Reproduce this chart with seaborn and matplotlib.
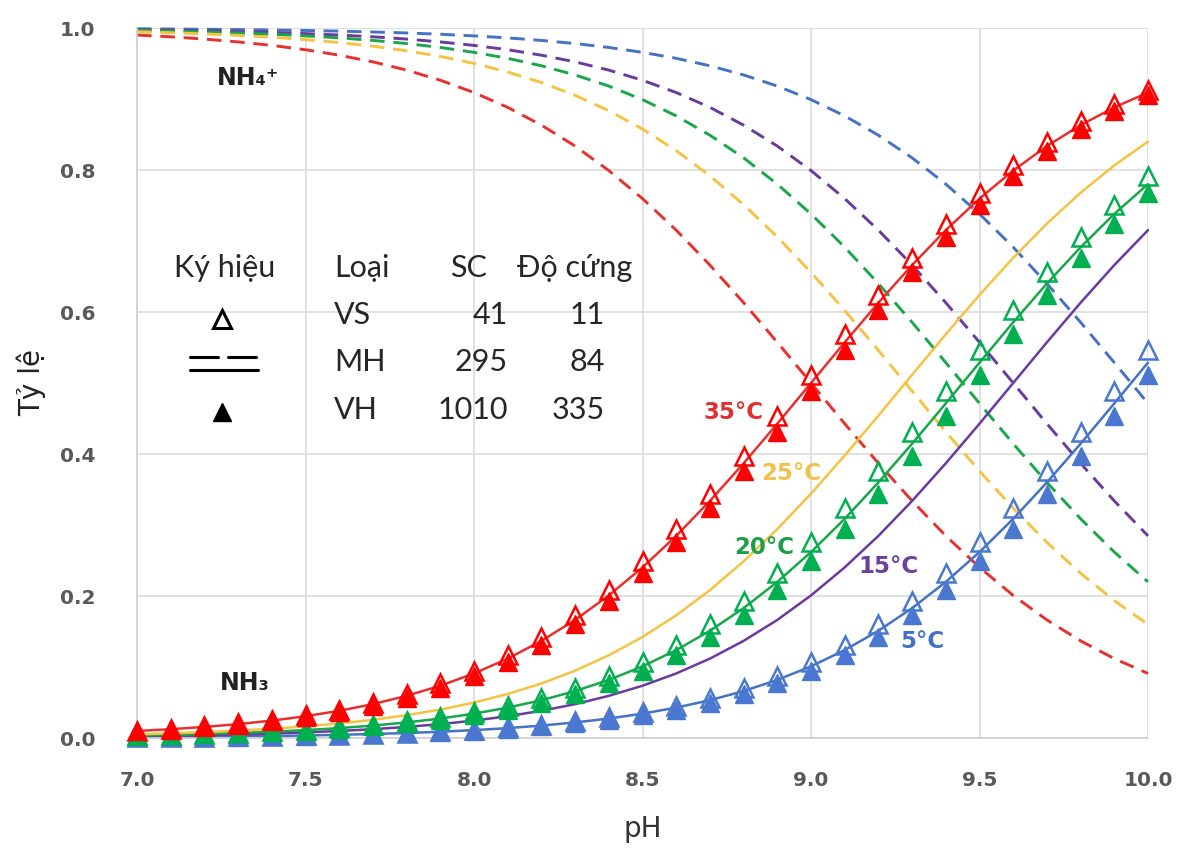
import matplotlib
matplotlib.use("Agg")
import matplotlib.pyplot as plt
import seaborn as sns
import pandas as pd

# ---------------- data ----------------
ph = [7.0, 7.1, 7.2, 7.3, 7.4, 7.5, 7.6, 7.7, 7.8, 7.9,
      8.0, 8.1, 8.2, 8.3, 8.4, 8.5, 8.6, 8.7, 8.8, 8.9,
      9.0, 9.1, 9.2, 9.3, 9.4, 9.5, 9.6, 9.7, 9.8, 9.9, 10.0]

# NH3 fraction, MH water (solid lines)
nh3_35 = [0.0099, 0.0124, 0.0156, 0.0196, 0.0245, 0.0307, 0.0383, 0.0477, 0.0594, 0.0736,
          0.0909, 0.1118, 0.1368, 0.1663, 0.2008, 0.2403, 0.2847, 0.3339, 0.3869, 0.4427,
          0.5000, 0.5573, 0.6131, 0.6661, 0.7153, 0.7597, 0.7992, 0.8337, 0.8632, 0.8882, 0.9091]
nh3_25 = [0.0052, 0.0066, 0.0083, 0.0104, 0.0130, 0.0163, 0.0205, 0.0256, 0.0321, 0.0400,
          0.0499, 0.0620, 0.0768, 0.0948, 0.1165, 0.1423, 0.1728, 0.2082, 0.2488, 0.2942,
          0.3442, 0.3978, 0.4541, 0.5115, 0.5686, 0.6240, 0.6763, 0.7245, 0.7680, 0.8065, 0.8400]
nh3_20 = [0.0035, 0.0045, 0.0056, 0.0070, 0.0088, 0.0111, 0.0139, 0.0175, 0.0219, 0.0274,
          0.0343, 0.0428, 0.0532, 0.0661, 0.0818, 0.1009, 0.1238, 0.1510, 0.1829, 0.2199,
          0.2619, 0.3087, 0.3600, 0.4145, 0.4713, 0.5287, 0.5855, 0.6401, 0.6912, 0.7381, 0.7801]
nh3_15 = [0.0025, 0.0032, 0.0040, 0.0050, 0.0063, 0.0079, 0.0099, 0.0124, 0.0156, 0.0196,
          0.0245, 0.0307, 0.0383, 0.0477, 0.0594, 0.0736, 0.0909, 0.1118, 0.1368, 0.1663,
          0.2008, 0.2403, 0.2847, 0.3339, 0.3869, 0.4427, 0.5000, 0.5573, 0.6131, 0.6661, 0.7153]
nh3_5 = [0.0011, 0.0014, 0.0018, 0.0022, 0.0028, 0.0035, 0.0045, 0.0056, 0.0070, 0.0088,
         0.0111, 0.0139, 0.0175, 0.0219, 0.0274, 0.0343, 0.0428, 0.0532, 0.0661, 0.0818,
         0.1009, 0.1238, 0.1510, 0.1829, 0.2199, 0.2619, 0.3087, 0.3600, 0.4145, 0.4713, 0.5287]

# NH4+ fraction, MH water (dashed lines)
nh4_35 = [0.9901, 0.9876, 0.9844, 0.9804, 0.9755, 0.9694, 0.9617, 0.9523, 0.9407, 0.9264,
          0.9091, 0.8882, 0.8632, 0.8337, 0.7992, 0.7597, 0.7153, 0.6661, 0.6131, 0.5573,
          0.5000, 0.4427, 0.3869, 0.3339, 0.2847, 0.2403, 0.2008, 0.1663, 0.1368, 0.1118, 0.0909]
nh4_25 = [0.9948, 0.9934, 0.9917, 0.9896, 0.9870, 0.9837, 0.9795, 0.9744, 0.9679, 0.9600,
          0.9501, 0.9380, 0.9232, 0.9052, 0.8835, 0.8577, 0.8272, 0.7918, 0.7512, 0.7058,
          0.6558, 0.6022, 0.5459, 0.4885, 0.4314, 0.3760, 0.3237, 0.2755, 0.2320, 0.1935, 0.1600]
nh4_20 = [0.9965, 0.9956, 0.9944, 0.9930, 0.9912, 0.9889, 0.9861, 0.9825, 0.9781, 0.9726,
          0.9657, 0.9573, 0.9468, 0.9339, 0.9182, 0.8991, 0.8762, 0.8490, 0.8171, 0.7801,
          0.7381, 0.6913, 0.6400, 0.5855, 0.5287, 0.4713, 0.4145, 0.3599, 0.3088, 0.2619, 0.2199]
nh4_15 = [0.9975, 0.9969, 0.9960, 0.9950, 0.9937, 0.9921, 0.9901, 0.9876, 0.9844, 0.9804,
          0.9755, 0.9694, 0.9617, 0.9523, 0.9407, 0.9264, 0.9091, 0.8882, 0.8632, 0.8337,
          0.7992, 0.7597, 0.7153, 0.6661, 0.6131, 0.5573, 0.5000, 0.4427, 0.3869, 0.3339, 0.2847]
nh4_5 = [0.9989, 0.9986, 0.9982, 0.9978, 0.9972, 0.9965, 0.9956, 0.9944, 0.9930, 0.9912,
         0.9889, 0.9861, 0.9825, 0.9781, 0.9726, 0.9657, 0.9573, 0.9468, 0.9339, 0.9182,
         0.8991, 0.8762, 0.8490, 0.8171, 0.7801, 0.7381, 0.6913, 0.6400, 0.5855, 0.5287, 0.4713]

# NH3 fraction, VS water (open triangles)
vs_35 = [0.0104, 0.0130, 0.0163, 0.0205, 0.0256, 0.0321, 0.0400, 0.0499, 0.0620, 0.0768,
         0.0948, 0.1165, 0.1423, 0.1728, 0.2082, 0.2488, 0.2942, 0.3442, 0.3978, 0.4541,
         0.5115, 0.5686, 0.6240, 0.6763, 0.7245, 0.7680, 0.8065, 0.8400, 0.8685, 0.8927, 0.9128]
vs_20 = [0.0038, 0.0048, 0.0060, 0.0075, 0.0095, 0.0119, 0.0149, 0.0187, 0.0234, 0.0293,
         0.0366, 0.0457, 0.0568, 0.0705, 0.0872, 0.1073, 0.1315, 0.1601, 0.1935, 0.2320,
         0.2755, 0.3237, 0.3760, 0.4314, 0.4885, 0.5459, 0.6022, 0.6558, 0.7058, 0.7513, 0.7918]
vs_5 = [0.0012, 0.0015, 0.0019, 0.0024, 0.0030, 0.0038, 0.0048, 0.0060, 0.0075, 0.0095,
        0.0119, 0.0149, 0.0187, 0.0234, 0.0293, 0.0366, 0.0457, 0.0568, 0.0705, 0.0872,
        0.1073, 0.1315, 0.1601, 0.1935, 0.2320, 0.2755, 0.3237, 0.3760, 0.4314, 0.4885, 0.5459]

# NH3 fraction, VH water (filled triangles)
vh_35 = [0.0095, 0.0119, 0.0149, 0.0187, 0.0234, 0.0293, 0.0366, 0.0457, 0.0568, 0.0705,
         0.0872, 0.1073, 0.1315, 0.1601, 0.1935, 0.2320, 0.2755, 0.3237, 0.3760, 0.4314,
         0.4885, 0.5459, 0.6022, 0.6558, 0.7058, 0.7513, 0.7918, 0.8272, 0.8577, 0.8835, 0.9052]
vh_20 = [0.0033, 0.0042, 0.0052, 0.0066, 0.0083, 0.0104, 0.0130, 0.0163, 0.0205, 0.0256,
         0.0321, 0.0400, 0.0499, 0.0620, 0.0768, 0.0948, 0.1165, 0.1423, 0.1728, 0.2082,
         0.2488, 0.2942, 0.3442, 0.3978, 0.4541, 0.5115, 0.5686, 0.6240, 0.6763, 0.7245, 0.7680]
vh_5 = [0.0011, 0.0013, 0.0017, 0.0021, 0.0026, 0.0033, 0.0042, 0.0052, 0.0066, 0.0083,
        0.0104, 0.0130, 0.0163, 0.0205, 0.0256, 0.0321, 0.0400, 0.0499, 0.0620, 0.0768,
        0.0948, 0.1165, 0.1423, 0.1728, 0.2082, 0.2488, 0.2942, 0.3442, 0.3978, 0.4541, 0.5115]

x_ticks = [7.0, 7.5, 8.0, 8.5, 9.0, 9.5, 10.0]
y_ticks = [0.0, 0.2, 0.4, 0.6, 0.8, 1.0]

legend_header = ["Ký hiệu", "Loại", "SC", "Độ cứng"]
legend_types = ["VS", "MH", "VH"]
legend_sc = ["41", "295", "1010"]
legend_hard = ["11", "84", "335"]

temp_labels = ["35°C", "25°C", "20°C", "15°C", "5°C"]

# ---------------- style ----------------
sns.set_theme(style="white")
plt.rcParams["font.family"] = ["DejaVu Sans"]

C_RED_L, C_RED_M = "#E8302E", "#FF0000"
C_YEL = "#F5C342"
C_GRN_L, C_GRN_M = "#1AA64A", "#00B050"
C_PUR = "#6A3A9E"
C_BLU_L, C_BLU_M = "#4472C4", "#4A78D0"

fig = plt.figure(figsize=(11.92, 8.49), dpi=100)
ax = fig.add_axes([137 / 1192, 1 - 738 / 849, 1011 / 1192, 710 / 849])

# dashed NH4+ lines
for ser, col in [(nh4_5, C_BLU_L), (nh4_15, C_PUR), (nh4_20, C_GRN_L),
                 (nh4_25, C_YEL), (nh4_35, C_RED_L)]:
    sns.lineplot(x=ph, y=ser, ax=ax, color=col, linewidth=2.1,
                 dashes=False, linestyle=(0, (5, 3)), clip_on=False, sort=False)

# solid NH3 lines
for ser, col in [(nh3_5, C_BLU_L), (nh3_15, C_PUR), (nh3_20, C_GRN_L),
                 (nh3_25, C_YEL), (nh3_35, C_RED_L)]:
    sns.lineplot(x=ph, y=ser, ax=ax, color=col, linewidth=1.8, clip_on=False, sort=False)

# open triangles (VS)
for ser, col in [(vs_5, C_BLU_M), (vs_20, C_GRN_M), (vs_35, C_RED_M)]:
    sns.lineplot(x=ph, y=ser, ax=ax, linestyle="none", marker="^", markersize=13,
                 markerfacecolor="none", markeredgecolor=col, markeredgewidth=1.8,
                 clip_on=False, sort=False, zorder=4)

# filled triangles (VH)
for ser, col in [(vh_5, C_BLU_M), (vh_20, C_GRN_M), (vh_35, C_RED_M)]:
    sns.lineplot(x=ph, y=ser, ax=ax, linestyle="none", marker="^", markersize=13,
                 markerfacecolor=col, markeredgecolor=col, markeredgewidth=1.0,
                 clip_on=False, sort=False, zorder=5)

ax.set_xlim(7.0, 10.0)
ax.set_ylim(0.0, 1.0)
ax.set_xticks(x_ticks)
ax.set_yticks(y_ticks)
ax.set_xticklabels([f"{v:.1f}" for v in x_ticks])
ax.set_yticklabels([f"{v:.1f}" for v in y_ticks])
ax.tick_params(axis="both", length=0, labelsize=14.5, labelcolor="#595959")
ax.tick_params(axis="x", pad=24)
ax.tick_params(axis="y", pad=30)
for lab in ax.get_xticklabels() + ax.get_yticklabels():
    lab.set_fontweight("bold")

ax.grid(True, color="#DCDCDC", linewidth=1.2)
ax.set_axisbelow(True)
for side in ["top", "right"]:
    ax.spines[side].set_visible(False)
ax.spines["left"].set_color("#D0D0D0")
ax.spines["bottom"].set_color("#D0D0D0")
ax.spines["left"].set_linewidth(1.2)
ax.spines["bottom"].set_linewidth(1.2)

ax.set_xlabel("pH", fontsize=20, color="#333333", labelpad=18)
ax.set_ylabel("Tỷ lệ", fontsize=20, color="#222222", labelpad=10)

# species labels
ax.text(7.33, 0.930, "NH₄⁺", fontsize=17, fontweight="bold", color="#222222",
        ha="center", va="center")
ax.text(7.32, 0.077, "NH₃", fontsize=17, fontweight="bold", color="#222222",
        ha="center", va="center")

# temperature labels
temp_pos = [(8.77, 0.459), (8.94, 0.372), (8.86, 0.268), (9.23, 0.242), (9.33, 0.136)]
temp_cols = ["#E03030", "#F2C04A", "#1E9E48", "#6B3FA0", "#4472C4"]
for lab, (px, py), col in zip(temp_labels, temp_pos, temp_cols):
    ax.text(px, py, lab, fontsize=16.5, fontweight="bold", color=col,
            ha="center", va="center")

# legend table (axes fraction coordinates)
tr = ax.transAxes
fs = 22
tcol = "#262626"
ax.text(0.087, 0.662, legend_header[0], transform=tr, fontsize=fs, color=tcol,
        ha="center", va="center", family="Lato")
ax.text(0.195, 0.662, legend_header[1], transform=tr, fontsize=fs, color=tcol,
        ha="left", va="center", family="Lato")
ax.text(0.3274, 0.662, legend_header[2], transform=tr, fontsize=fs, color=tcol,
        ha="center", va="center", family="Lato")
ax.text(0.376, 0.662, legend_header[3], transform=tr, fontsize=fs, color=tcol,
        ha="left", va="center", family="Lato")
row_y = [0.596, 0.530, 0.462]
for yy, t, sc, hd in zip(row_y, legend_types, legend_sc, legend_hard):
    ax.text(0.195, yy, t, transform=tr, fontsize=fs, color=tcol, ha="left",
            va="center", family="Lato")
    ax.text(0.367, yy, sc, transform=tr, fontsize=fs, color=tcol, ha="right",
            va="center", family="Lato")
    ax.text(0.463, yy, hd, transform=tr, fontsize=fs, color=tcol, ha="right",
            va="center", family="Lato")

# legend symbols
ax.plot([0.0841], [0.590], transform=tr, marker="^", markersize=13,
        markerfacecolor="none", markeredgecolor="black", markeredgewidth=2.2,
        linestyle="none")
ax.plot([0.0841], [0.459], transform=tr, marker="^", markersize=13,
        markerfacecolor="black", markeredgecolor="black", linestyle="none")
ax.plot([0.0524, 0.0801], [0.537, 0.537], transform=tr, color="black", linewidth=2.2)
ax.plot([0.0900, 0.1177], [0.537, 0.537], transform=tr, color="black", linewidth=2.2)
ax.plot([0.0524, 0.1197], [0.519, 0.519], transform=tr, color="black", linewidth=2.2)

if ax.get_legend() is not None:
    ax.get_legend().remove()

fig.savefig("out.png", dpi=100)
